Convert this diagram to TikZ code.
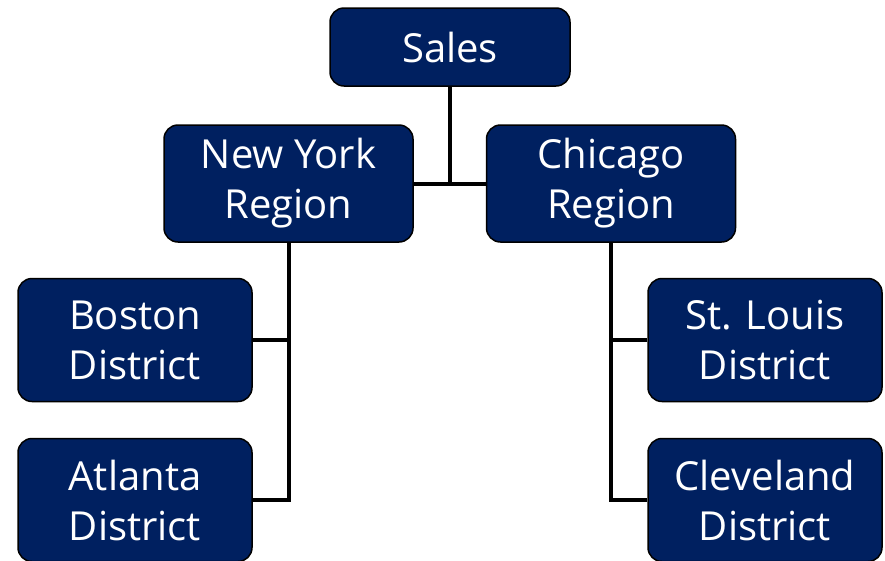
\documentclass[tikz,border=0pt]{standalone}
\usepackage{fontspec}
\setmainfont{Open Sans}
\usepackage{tikz}
\usetikzlibrary{arrows,positioning}

\definecolor{navy}{RGB}{0,32,96}

\begin{document}
\begin{tikzpicture}[x=1pt, y=-1pt,
  unit/.style={rectangle, rounded corners=14pt, draw=black, line width=1.5pt, fill=navy,
    text=white, align=center, inner sep=0pt, font=\fontsize{40}{50}\selectfont},
  region/.style={unit, minimum width=249pt, minimum height=117pt},
  district/.style={unit, minimum width=234pt, minimum height=123pt},
  link/.style={draw=black, line width=4pt}
  ]
  \useasboundingbox (0,0) rectangle (885,560);
  %nodes
  \node at (450, 47) [unit, minimum width=240pt, minimum height=78pt] (sales) {Sales};
  \node at (288.5, 183.5) [region] (newyork) {New York\\Region};
  \node at (611, 183.5) [region] (chicago) {Chicago\\Region};
  \node at (135, 340) [district] (boston) {Boston\\District};
  \node at (135, 500) [district] (atlanta) {Atlanta\\District};
  \node at (765, 340) [district] (stlouis) {St. Louis\\District};
  \node at (765, 500) [district] (cleveland) {Cleveland\\District};

  %links
  \coordinate (join) at (sales.south |- newyork.east);
  \draw[link] (sales.south) -- (join);
  \draw[link] (newyork.east) -- (chicago.west);
  \draw[link] (newyork.south) |- (atlanta.east);
  \draw[link] (boston.east) -| (newyork.south);
  \draw[link] (chicago.south) |- (cleveland.west);
  \draw[link] (stlouis.west) -| (chicago.south);
\end{tikzpicture}
\end{document}
